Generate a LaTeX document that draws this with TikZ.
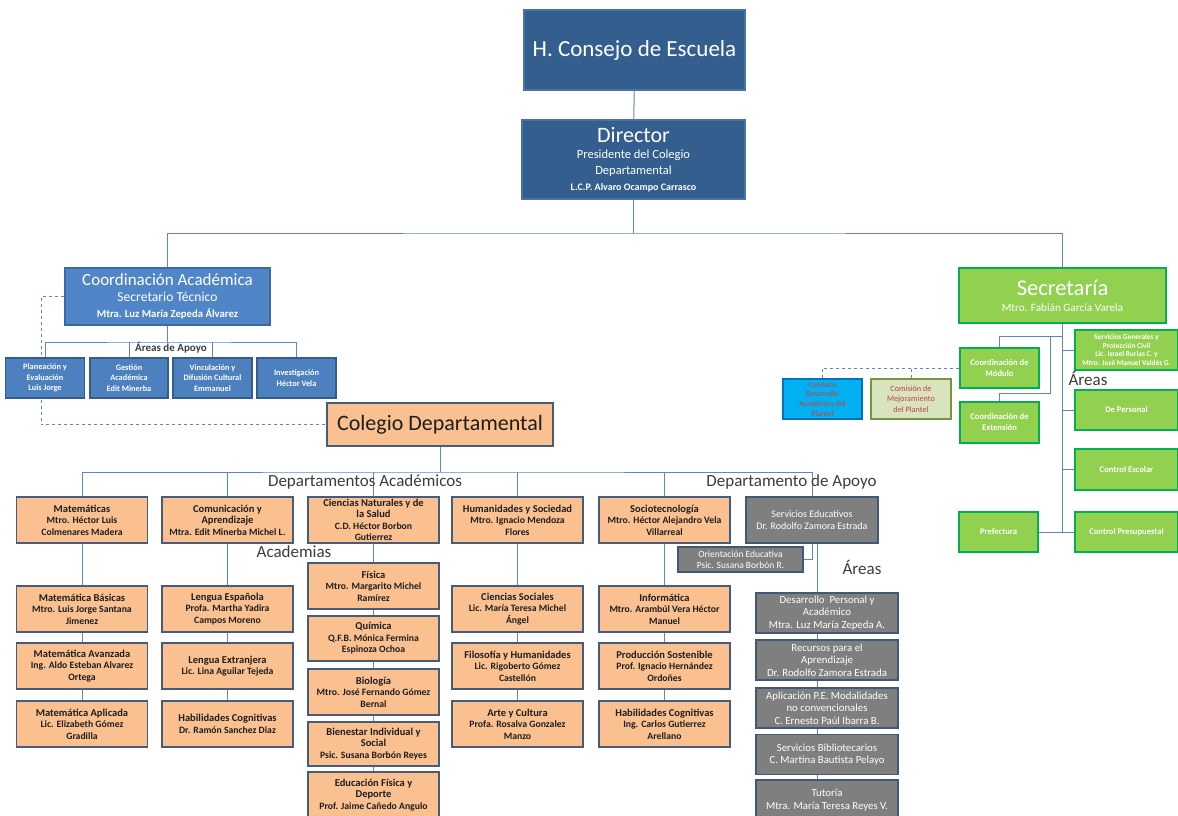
\documentclass[tikz,border=0pt]{standalone}
\usepackage{fontspec}
\setmainfont{Carlito}
\usepackage{xcolor}
\usetikzlibrary{backgrounds}

\definecolor{navyfill}{RGB}{52,94,142}
\definecolor{navyline}{RGB}{72,116,166}
\definecolor{coordfill}{RGB}{80,134,200}
\definecolor{coordline}{RGB}{58,104,168}
\definecolor{apoyofill}{RGB}{76,128,190}
\definecolor{apoyoline}{RGB}{54,92,140}
\definecolor{peachfill}{RGB}{250,192,144}
\definecolor{peachline}{RGB}{70,92,124}
\definecolor{peachtext}{RGB}{30,30,30}
\definecolor{grayfill}{RGB}{127,127,127}
\definecolor{grayline}{RGB}{66,88,120}
\definecolor{greenfill}{RGB}{146,208,80}
\definecolor{greenline}{RGB}{0,176,80}
\definecolor{cyanfill}{RGB}{0,176,240}
\definecolor{cyanline}{RGB}{0,112,192}
\definecolor{olivefill}{RGB}{215,228,189}
\definecolor{oliveline}{RGB}{119,147,60}
\definecolor{comtext}{RGB}{200,64,64}
\definecolor{linkcol}{RGB}{96,136,190}
\definecolor{lbltext}{RGB}{60,60,60}

\newcommand{\fsz}[2]{\fontsize{#1}{#2}\selectfont}
\newcommand{\boxhead}[1]{{\fsz{10.5}{12}#1}}

\begin{document}
\begin{tikzpicture}[x=1pt,y=-1pt]
\tikzset{box/.style={draw, line width=1.6pt, align=center, inner sep=1pt, minimum width=131pt, minimum height=46pt}}
\tikzset{navy/.style={box, fill=navyfill, draw=navyline, text=white}}
\tikzset{coordbox/.style={box, fill=coordfill, draw=coordline, text=white}}
\tikzset{apoyo/.style={box, fill=apoyofill, draw=apoyoline, text=white, minimum width=79pt, minimum height=40pt, font=\fsz{8.3}{10.3}\bfseries}}
\tikzset{peach/.style={box, fill=peachfill, draw=peachline, text=peachtext, font=\fsz{9.7}{11.5}\bfseries}}
\tikzset{graybox/.style={box, fill=grayfill, draw=grayline, text=white, minimum width=142pt, minimum height=40pt, font=\fsz{10.8}{12.5}}}
\tikzset{greenbox/.style={box, fill=greenfill, draw=greenline, line width=1.8pt, text=white, minimum width=79pt, minimum height=40pt, font=\fsz{8.6}{11}\bfseries}}
\tikzset{comision/.style={box, line width=1.8pt, text=comtext, minimum width=79pt, minimum height=40pt, inner ysep=0pt, font=\fsz{8.2}{10.4}}}
\tikzset{lbl/.style={text=lbltext, font=\fsz{17}{20}, inner sep=0}}
\tikzset{link/.style={draw=linkcol, line width=1pt}}
\tikzset{dashlink/.style={link, dash pattern=on 3pt off 3pt}}

\useasboundingbox (0,0) rectangle (1178,816);

\node[navy, minimum width=221pt, minimum height=80pt, font=\fsz{23}{27}] (consejo) at (634.5,50) {H. Consejo de Escuela};
\node[navy, minimum width=223pt, minimum height=79pt, font=\fsz{12.5}{16}] (director) at (633.5,159.5) {{\fsz{22}{24}Director}\\Presidente del Colegio\\Departamental\\{\fsz{10}{12}\bfseries L.C.P. Alvaro Ocampo Carrasco}};

\node[coordbox, minimum width=205pt, minimum height=57pt, font=\fsz{13.6}{16}] (coord) at (167.5,296.5) {{\fsz{17}{19}Coordinación Académica}\\Secretario Técnico\\{\fsz{10.7}{13}\bfseries Mtra. Luz María Zepeda Álvarez}};
\node[apoyo] (planea) at (45,378) {Planeación y\\Evaluación\\Luis Jorge};
\node[apoyo, minimum width=78pt] (gestion) at (129,378) {Gestión\\Académica\\Edit Minerba};
\node[apoyo] (vincu) at (212.5,378) {Vinculación y\\Difusión Cultural\\Emmanuel};
\node[apoyo] (inves) at (296.5,378) {Investigación\\Héctor Vela};
\node[font=\fsz{11}{13}\bfseries, text=lbltext, inner sep=0] (apoyolbl) at (171,348) {Áreas de Apoyo};

\node[peach, minimum width=226pt, minimum height=43pt, font=\fsz{22}{26}\mdseries] (colegio) at (440,424.5) {Colegio Departamental};

\node[peach] (mate) at (82,520) {\boxhead{Matemáticas}\\Mtro. Héctor Luis\\Colmenares Madera};
\node[peach] (comu) at (227.5,520) {\boxhead{Comunicación y}\\\boxhead{Aprendizaje}\\Mtra. Edit Minerba Michel L.};
\node[peach, inner ysep=0pt] (cien) at (373.5,520) {\boxhead{Ciencias Naturales y de}\\\boxhead{la Salud}\\C.D. Héctor Borbon\\Gutierrez};
\node[peach] (huma) at (517.5,520) {\boxhead{Humanidades y Sociedad}\\Mtro. Ignacio Mendoza\\Flores};
\node[peach] (socio) at (664.5,520) {\boxhead{Sociotecnología}\\Mtro. Héctor Alejandro Vela\\Villarreal};
\node[graybox, minimum width=132pt, minimum height=46pt, font=\fsz{10}{12.5}] (serv) at (812,520) {Servicios Educativos\\Dr. Rodolfo Zamora Estrada};
\node[graybox, minimum width=125pt, minimum height=25pt, font=\fsz{9.5}{11.5}] (orient) at (740.5,559.5) {Orientación Educativa\\Psic. Susana Borbón R.};

\node[peach] (matebas) at (82,609) {\boxhead{Matemática Básicas}\\Mtro. Luis Jorge Santana\\Jimenez};
\node[peach] (mateav) at (82,666) {\boxhead{Matemática Avanzada}\\Ing. Aldo Esteban Alvarez\\Ortega};
\node[peach] (mateap) at (82,724) {\boxhead{Matemática Aplicada}\\Lic. Elizabeth Gómez\\Gradilla};

\node[peach] (lenesp) at (227.5,609) {\boxhead{Lengua Española}\\Profa. Martha Yadira\\Campos Moreno};
\node[peach] (lenext) at (227.5,666) {\boxhead{Lengua Extranjera}\\Lic. Lina Aguilar Tejeda};
\node[peach] (habil1) at (227.5,724) {\boxhead{Habilidades Cognitivas}\\Dr. Ramón Sanchez Diaz};

\node[peach] (fisica) at (373.5,586) {\boxhead{Física}\\Mtro. Margarito Michel\\Ramírez};
\node[peach, minimum height=45pt] (quimica) at (373.5,638.5) {\boxhead{Química}\\Q.F.B. Mónica Fermina\\Espinoza Ochoa};
\node[peach] (biologia) at (373.5,692) {\boxhead{Biología}\\Mtro. José Fernando Gómez\\Bernal};
\node[peach, minimum height=44pt] (bienestar) at (373.5,744) {\boxhead{Bienestar Individual y}\\\boxhead{Social}\\Psic. Susana Borbón Reyes};
\node[peach] (educa) at (373.5,795) {\boxhead{Educación Física y}\\\boxhead{Deporte}\\Prof. Jaime Cañedo Angulo};

\node[peach] (cienso) at (517.5,609) {\boxhead{Ciencias Sociales}\\Lic. María Teresa Michel\\Ángel};
\node[peach] (filoso) at (517.5,666) {\boxhead{Filosofía y Humanidades}\\Lic. Rigoberto Gómez\\Castellón};
\node[peach] (arte) at (517.5,724) {\boxhead{Arte y Cultura}\\Profa. Rosalva Gonzalez\\Manzo};

\node[peach] (informa) at (664.5,609) {\boxhead{Informática}\\Mtro. Arambúl Vera Héctor\\Manuel};
\node[peach] (produc) at (664.5,666) {\boxhead{Producción Sostenible}\\Prof. Ignacio Hernández\\Ordoñes};
\node[peach] (habil2) at (664.5,724) {\boxhead{Habilidades Cognitivas}\\Ing. Carlos Gutierrez\\Arellano};

\node[graybox] (desa) at (827,613) {Desarrollo\ \ Personal y\\Académico\\Mtra. Luz María Zepeda A.};
\node[graybox] (recur) at (827,660) {Recursos para el\\Aprendizaje\\Dr. Rodolfo Zamora Estrada};
\node[graybox] (aplica) at (827,708) {Aplicación P.E. Modalidades\\no convencionales\\C. Ernesto Paúl Ibarra B.};
\node[graybox] (biblio) at (827,754.5) {Servicios Bibliotecarios\\C. Martina Bautista Pelayo};
\node[graybox] (tuto) at (827,800) {Tutoría\\Mtra. María Teresa Reyes V.};

\node[greenbox, minimum width=207pt, minimum height=55pt, font=\fsz{12}{16}] (secre) at (1062.5,295.5) {{\fsz{22.5}{26}Secretaría}\\{\fsz{11.2}{13}Mtro. Fabián García Varela}};
\node[greenbox] (modulo) at (999.5,368) {Coordinación de\\Módulo};
\node[greenbox, minimum height=41pt] (extension) at (999.5,422.5) {Coordinación de\\Extensión};
\node[greenbox] (prefect) at (998.5,532) {Prefectura};
\node[greenbox, minimum width=103pt, inner ysep=0pt, font=\fsz{7.4}{8.6}\bfseries] (servgen) at (1126.5,350) {Servicios Generales y\\Protección Civil\\Lic. Israel Rurias C. y\\Mtro. José Manuel Valdés G.};
\node[greenbox, minimum width=103pt] (personal) at (1126.5,410) {De Personal};
\node[greenbox, minimum width=103pt, minimum height=41pt] (escolar) at (1126.5,469.5) {Control Escolar};
\node[greenbox, minimum width=103pt] (presup) at (1126.5,532) {Control Presupuestal};
\node[comision, fill=cyanfill, draw=cyanline, font=\fsz{7.8}{9.6}] (comi1) at (822.5,399) {Comisión\\Desarrollo\\Académico del\\Plantel};
\node[comision, fill=olivefill, draw=oliveline, minimum width=80pt] (comi2) at (911,399) {Comisión de\\Mejoramiento\\del Plantel};

\node[lbl] (deptlbl) at (365,482) {Departamentos Académicos};
\node[lbl] (deptapoyo) at (791.5,482) {Departamento de Apoyo};
\node[lbl] (acadlbl) at (294,552) {Academias};
\node[lbl] (areaslbl) at (862,567) {Áreas};
\node[lbl] (areas2lbl) at (1088,378) {Áreas};

\begin{scope}[on background layer]
\fill[white] (0,0) rectangle (1178,816);
\coordinate (topbus) at (633.5,233);
\draw[link] (consejo) -- (director);
\draw[link] (director.south) -- (topbus);
\draw[link] (coord.north) |- (topbus) -| (secre.north);
\coordinate (apoyobus) at (167.5,342);
\draw[link] (coord.south) -- (apoyobus);
\draw[link] (planea.north) |- (apoyobus) -| (inves.north);
\foreach \n in {gestion,vincu} \draw[link] (\n.north) -- (\n.north |- apoyobus);
\draw[dashlink] (coord.west) -- ++(-23,0) |- (colegio.west);
\coordinate (deptbus) at (440,472);
\draw[link] (colegio.south) -- (deptbus);
\draw[link] (mate.north) |- (deptbus) -| (serv.north |- orient.east) -- (orient.east);
\foreach \n in {comu,cien,huma,socio} \draw[link] (\n.north) -- (\n.north |- deptbus);
\draw[link] (mate) -- (mateap);
\draw[link] (comu) -- (habil1);
\draw[link] (cien) -- (educa);
\draw[link] (huma) -- (arte);
\draw[link] (socio) -- (habil2);
\draw[link] ([xshift=5pt]serv.south) -- ([xshift=5pt]serv.south |- tuto);
\draw[link] (secre) -- (secre |- presup);
\draw[link] (prefect) -- (presup);
\foreach \n in {servgen,personal,escolar} \draw[link] (\n) -- (\n -| secre);
\coordinate (modbus) at (1062.5,336);
\draw[link] (modbus) -| (modulo);
\draw[link] ([xshift=-12.5pt]modbus) -- ++(0,57) -| (extension);
\draw[dashlink] (modulo.west) -| (comi1.north);
\draw[dashlink] (comi2.north) -- (comi2.north |- modulo.west);
\end{scope}

\end{tikzpicture}
\end{document}
